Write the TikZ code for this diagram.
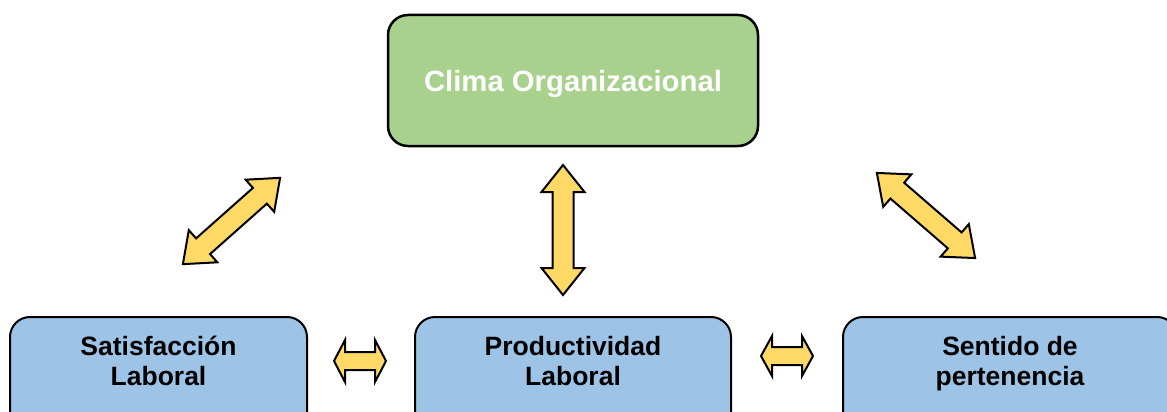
\documentclass[tikz,border=0pt]{standalone}
\usepackage{fontspec}
\setmainfont{Liberation Sans}
\definecolor{boxgreen}{HTML}{A9D18E}
\definecolor{boxblue}{HTML}{9DC3E6}
\definecolor{arrowyellow}{HTML}{FFD966}
\tikzset{
  topbox/.style={draw=black, line width=2.5pt, fill=boxgreen, rounded corners=20pt, inner sep=0pt},
  botbox/.style={draw=black, line width=2pt, fill=boxblue, rounded corners=20pt, inner sep=0pt, anchor=north},
  boxtext/.style={font=\bfseries\fontsize{26.5}{30}\selectfont, align=center, text=black, inner sep=0pt},
  fatarrow/.style={draw=black, line width=2pt, fill=arrowyellow, line join=miter},
}
% #1 x, #2 y, #3 angle, #4 half length, #5 head length, #6 head half width, #7 shaft half width
\newcommand{\fatdbl}[7]{%
  \begin{scope}[shift={(#1,#2)}, rotate=#3]
    \draw[fatarrow] (-#4,0) -- (-#4+#5,#6) -- (-#4+#5,#7) -- (#4-#5,#7) -- (#4-#5,#6) -- (#4,0)
      -- (#4-#5,-#6) -- (#4-#5,-#7) -- (-#4+#5,-#7) -- (-#4+#5,-#6) -- cycle;
  \end{scope}}
\begin{document}
\begin{tikzpicture}[x=1pt, y=-1pt]
\useasboundingbox (0,0) rectangle (1167,412);
\clip (0,0) rectangle (1167,412);
\fill[white] (0,0) rectangle (1167,412);

\node[topbox, minimum width=370pt, minimum height=131pt] (clima) at (573,80.5) {};
\node[font=\bfseries\fontsize{29.3}{34}\selectfont, text=white, anchor=base, inner sep=0pt] (climaT) at (573,92) {Clima Organizacional};

\node[botbox, minimum width=297pt, minimum height=120pt] (sat) at (158.5,316) {};
\node[boxtext] (satT) at (158.5,364) {Satisfacción\strut\\Laboral\strut};

\node[botbox, minimum width=316pt, minimum height=120pt] (prod) at (573,316) {};
\node[boxtext] (prodT) at (573,364) {Productividad\strut\\Laboral\strut};

\node[botbox, minimum width=334pt, minimum height=120pt] (sent) at (1010,316) {};
\node[boxtext] (sentT) at (1010,364) {Sentido de\strut\\pertenencia\strut};

% fat double arrows
\fatdbl{563}{230}{90}{65}{27}{21.5}{10.5}
\fatdbl{231.5}{221}{41.6}{65}{27}{21.5}{10.5}
\fatdbl{926}{215.5}{-40.9}{65}{27}{21.5}{10.5}
\fatdbl{360}{361}{0}{26}{11}{21}{9}
\fatdbl{787}{356}{0}{26}{11}{20}{9}
\end{tikzpicture}
\end{document}
